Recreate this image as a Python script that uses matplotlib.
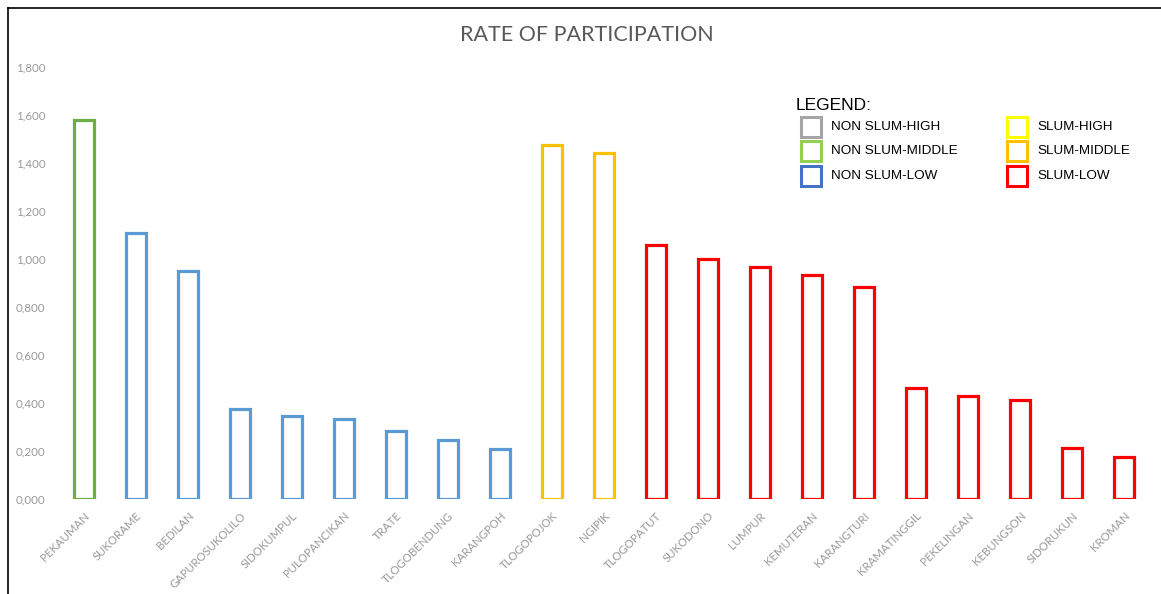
import matplotlib
matplotlib.use("Agg")
import matplotlib.pyplot as plt
from matplotlib.patches import Rectangle
from matplotlib.lines import Line2D

# kelurahan names and participation rates
villages = ["PEKAUMAN", "SUKORAME", "BEDILAN", "GAPUROSUKOLILO", "SIDOKUMPUL",
            "PULOPANCIKAN", "TRATE", "TLOGOBENDUNG", "KARANGPOH", "TLOGOPOJOK",
            "NGIPIK", "TLOGOPATUT", "SUKODONO", "LUMPUR", "KEMUTERAN",
            "KARANGTURI", "KRAMATINGGIL", "PEKELINGAN", "KEBUNGSON",
            "SIDORUKUN", "KROMAN"]
rates = [1.579, 1.109, 0.950, 0.375, 0.346, 0.332, 0.285, 0.247, 0.208, 1.476,
         1.443, 1.057, 0.999, 0.965, 0.932, 0.882, 0.464, 0.428, 0.411,
         0.211, 0.176]
groups = ["NON SLUM-MIDDLE"] + ["NON SLUM-LOW"] * 8 + ["SLUM-MIDDLE"] * 2 + ["SLUM-LOW"] * 10

legend_order = ["NON SLUM-HIGH", "NON SLUM-MIDDLE", "NON SLUM-LOW",
                "SLUM-HIGH", "SLUM-MIDDLE", "SLUM-LOW"]
bar_colors = {"NON SLUM-HIGH": "#a5a5a5", "NON SLUM-MIDDLE": "#70ad47",
              "NON SLUM-LOW": "#5b9bd5", "SLUM-HIGH": "#ffff00",
              "SLUM-MIDDLE": "#ffc000", "SLUM-LOW": "#ff0000"}
legend_colors = {"NON SLUM-HIGH": "#a5a5a5", "NON SLUM-MIDDLE": "#92d050",
                 "NON SLUM-LOW": "#4472c4", "SLUM-HIGH": "#ffff00",
                 "SLUM-MIDDLE": "#ffc000", "SLUM-LOW": "#ff0000"}

W, H = 1161, 594
fig = plt.figure(figsize=(W / 100, H / 100), dpi=100)
ax = fig.add_axes([58 / W, 95 / H, 1092 / W, 432 / H])

x = range(len(villages))
ax.bar(x, rates, width=0.4, facecolor="white",
       edgecolor=[bar_colors[g] for g in groups], linewidth=2.3)

ax.set_xlim(-0.5, len(villages) - 0.5)
ax.set_ylim(0, 1.8)
yt = [i * 0.2 for i in range(10)]
ax.set_yticks(yt)
ax.set_yticklabels([f"{v:.3f}".replace(".", ",") for v in yt],
                   color="#999999", fontsize=8.3, family="Lato")
ax.set_xticks(list(x))
ax.set_xticklabels(villages, rotation=45, ha="right", rotation_mode="anchor",
                   color="#999999", fontsize=8.2, family="Lato")
ax.tick_params(axis="both", length=0)
ax.tick_params(axis="y", pad=9)
ax.tick_params(axis="x", pad=8)
for s in ax.spines.values():
    s.set_visible(False)

fig.text(587 / W, 1 - 35 / H, "RATE OF PARTICIPATION", ha="center", va="center",
         fontsize=15.5, color="#595959", family="Lato")

# legend drawn by hand: two columns of outlined squares
fig.text(796 / W, 1 - 105 / H, "LEGEND:", ha="left", va="center",
         fontsize=12.5, color="black", family="Liberation Sans")
row_y = [127, 151, 176]
col_x = [801, 1007]
for i, g in enumerate(legend_order):
    cx = col_x[i // 3]
    cy = row_y[i % 3]
    fig.patches.append(Rectangle((cx / W, 1 - (cy + 10) / H), 20 / W, 20 / H,
                                 transform=fig.transFigure, facecolor="white",
                                 edgecolor=legend_colors[g], linewidth=2.2))
    fig.text((cx + 30) / W, 1 - cy / H, g, ha="left", va="center",
             fontsize=9.7, color="black", family="Liberation Sans")

# outer frame, top and left edges
fig.add_artist(Line2D([8 / W, 1], [1 - 8 / H, 1 - 8 / H], color="black", linewidth=1.2))
fig.add_artist(Line2D([8 / W, 8 / W], [0, 1 - 8 / H], color="black", linewidth=1.2))

fig.savefig("out.png", dpi=100, facecolor="white")
